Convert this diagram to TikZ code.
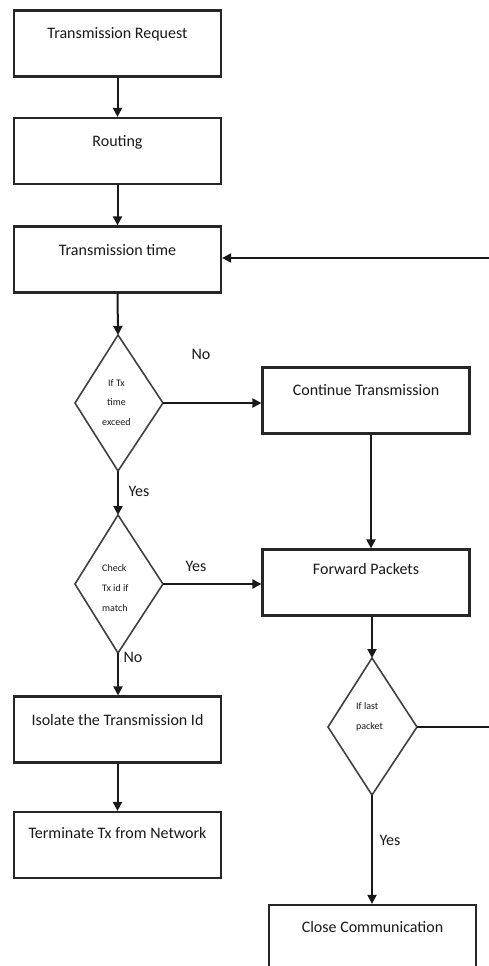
\documentclass[tikz,border=0pt]{standalone}
\usepackage{fontspec}
\setmainfont{Carlito}
\usetikzlibrary{arrows.meta,positioning}
\begin{document}
\begin{tikzpicture}[x=1pt,y=-1pt,
  box/.style={draw=black!85, line width=2.2pt, rectangle, minimum width=207pt, minimum height=66pt, inner sep=0pt},
  dia/.style={draw=black!75, line width=1.6pt, line join=miter},
  lbl/.style={font=\fontsize{16}{18}\selectfont, text=black!90, inner sep=0pt},
  small/.style={font=\fontsize{10}{20}\selectfont, text=black!90, inner sep=0pt, align=left},
  arr/.style={-{Triangle[width=9pt,length=9pt]}, line width=2pt, draw=black!90},
  ln/.style={line width=2pt, draw=black!90}]
\clip (0,0) rectangle (489,966);
\fill[white] (0,0) rectangle (489,966);

% boxes
\node[box] (req) at (117.5,43.5) {};
\node[lbl] (reqt) at (117.5,34) {Transmission Request};
\node[box] (rout) at (117.5,151) {};
\node[lbl] (routt) at (117.5,142) {Routing};
\node[box] (ttime) at (117.5,259.5) {};
\node[lbl] (ttimet) at (117.5,250) {Transmission time};
\node[box] (cont) at (366,400.5) {};
\node[lbl] (contt) at (366,390) {Continue Transmission};
\node[box] (fwd) at (366,582.5) {};
\node[lbl] (fwdt) at (366,569) {Forward Packets};
\node[box] (iso) at (117.5,729.5) {};
\node[lbl] (isot) at (117.5,720) {Isolate the Transmission Id};
\node[box] (term) at (117.5,845) {};
\node[lbl] (termt) at (117.5,833) {Terminate Tx from Network};
\node[box] (close) at (372.5,938) {};
\node[lbl] (closet) at (372.5,927) {Close Communication};

% diamonds
\draw[dia] (118,335) coordinate (d1n) -- (163,403) coordinate (d1e) -- (118,471) coordinate (d1s) -- (75,403) -- cycle;
\node[small, anchor=west] (d1t) at (102,403) {\hspace*{6pt}If Tx\\[-1pt]\hspace*{5pt}time\\exceed};
\draw[dia] (118,515) coordinate (d2n) -- (163,584) coordinate (d2e) -- (118,653) coordinate (d2s) -- (75,584) -- cycle;
\node[small, anchor=west] (d2t) at (102,588) {Check\\Tx id if\\match};
\draw[dia] (372,658) coordinate (d3n) -- (417,727) coordinate (d3e) -- (372,795) coordinate (d3s) -- (328,727) -- cycle;
\node[small, anchor=west] (d3t) at (356,717) {If last\\packet};

% right edge return
\coordinate (r1) at (489,258);
\coordinate (r2) at (489,727);

% connectors
\draw[arr] (req.south) -- (rout.north);
\draw[arr] (rout.south) -- (ttime.north);
\draw[arr] (ttime.south) -- (d1n);
\draw[arr] (r1) -- (ttime.east |- r1);
\draw[arr] (d1e) -- (cont.west |- d1e);
\draw[arr] (d1s) -- (d2n);
\draw[arr] (cont.south -| 371,0) -- (fwd.north -| 371,0);
\draw[arr] (d2e) -- (fwd.west |- d2e);
\draw[arr] (fwd.south -| 372,0) -- (d3n);
\draw[ln] (d3e) -- (r2);
\draw[arr] (d2s) -- (iso.north -| d2s);
\draw[arr] (iso.south) -- (term.north);
\draw[arr] (d3s) -- (close.north -| d3s);

% labels
\node[lbl] (no1) at (201,354) {No};
\node[lbl] (yes1) at (139,491) {Yes};
\node[lbl] (yes2) at (196,566) {Yes};
\node[lbl] (no2) at (133,657) {No};
\node[lbl] (yes3) at (390,840) {Yes};
\end{tikzpicture}
\end{document}
